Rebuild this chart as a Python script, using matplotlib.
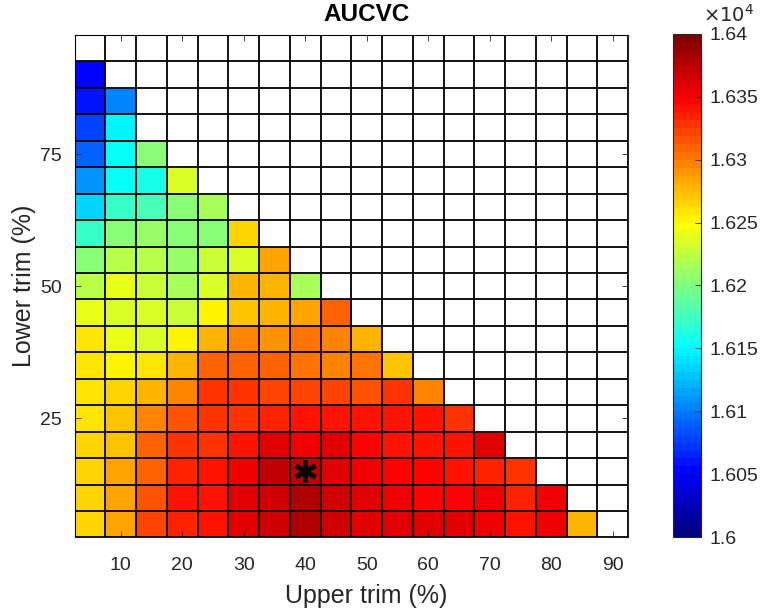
import numpy as np
import matplotlib
matplotlib.use("Agg")
import matplotlib.pyplot as plt
from matplotlib.colors import LinearSegmentedColormap

plt.rcParams['font.family'] = ['Liberation Sans', 'DejaVu Sans']

# upper trim (columns) and lower trim (rows, top to bottom)
upper_trim = [5, 10, 15, 20, 25, 30, 35, 40, 45, 50, 55, 60, 65, 70, 75, 80, 85, 90]
lower_trim = [95, 90, 85, 80, 75, 70, 65, 60, 55, 50, 45, 40, 35, 30, 25, 20, 15, 10, 5]

# AUCVC per row, starting at upper trim 5; missing cells are blank
auc_rows = [
    [],
    [16052],
    [16062, 16100],
    [16075, 16145],
    [16089, 16150, 16200],
    [16109, 16150, 16162, 16236],
    [16132, 16170, 16178, 16205, 16213],
    [16170, 16205, 16208, 16205, 16206, 16263],
    [16200, 16220, 16220, 16208, 16225, 16236, 16283],
    [16220, 16240, 16228, 16217, 16236, 16275, 16275, 16213],
    [16240, 16236, 16233, 16228, 16250, 16271, 16275, 16283, 16307],
    [16262, 16240, 16236, 16250, 16281, 16295, 16291, 16302, 16295, 16281],
    [16262, 16250, 16262, 16279, 16307, 16309, 16307, 16305, 16297, 16301, 16270],
    [16258, 16266, 16278, 16299, 16326, 16326, 16322, 16322, 16322, 16318, 16326, 16295],
    [16258, 16271, 16295, 16315, 16330, 16330, 16334, 16342, 16342, 16342, 16340, 16338, 16330],
    [16264, 16274, 16307, 16326, 16326, 16340, 16358, 16356, 16358, 16344, 16338, 16338, 16342, 16358],
    [16264, 16283, 16311, 16336, 16338, 16350, 16370, 16372, 16358, 16350, 16344, 16344, 16340, 16336, 16326],
    [16264, 16285, 16318, 16338, 16342, 16358, 16368, 16378, 16364, 16361, 16352, 16344, 16344, 16350, 16336, 16350],
    [16266, 16285, 16322, 16336, 16340, 16362, 16366, 16380, 16364, 16362, 16361, 16358, 16362, 16350, 16342, 16350, 16275],
]

best_upper = 40
best_lower = 15

cbar_ticks = [16000, 16050, 16100, 16150, 16200, 16250, 16300, 16350, 16400]

x = np.array(upper_trim, dtype=float)
y = np.array(lower_trim, dtype=float)
z = np.full((len(y), len(x)), np.nan)
for i, row in enumerate(auc_rows):
    z[i, :len(row)] = row
z = np.ma.masked_invalid(z)

dx = np.diff(x)[0] / 2
dy = abs(np.diff(y)[0]) / 2
x_edges = np.append(x - dx, x[-1] + dx)
y_sorted = np.sort(y)
y_edges = np.append(y_sorted - dy, y_sorted[-1] + dy)

# MATLAB style jet, 64 levels
jet = LinearSegmentedColormap.from_list(
    "mjet",
    [(0, (0, 0, 0.5)), (0.125, (0, 0, 1)), (0.375, (0, 1, 1)),
     (0.625, (1, 1, 0)), (0.875, (1, 0, 0)), (1, (0.5, 0, 0))], N=64)

fig = plt.figure(figsize=(7.64, 6.11), dpi=100)
ax = fig.add_axes([0.0978, 0.1203, 0.7242, 0.8224])
cax = fig.add_axes([0.8809, 0.1211, 0.0366, 0.8233])

mesh = ax.pcolormesh(x, y, z, cmap=jet, vmin=cbar_ticks[0], vmax=cbar_ticks[-1],
                     shading='nearest')
ax.set_xlim(x_edges[0], x_edges[-1])
ax.set_ylim(y_edges[0], y_edges[-1])

ax.set_xticks(x_edges, minor=True)
ax.set_yticks(y_edges, minor=True)
ax.grid(which='minor', color='k', linewidth=1.3)
ax.set_axisbelow(False)
ax.tick_params(which='minor', length=0)

ax.set_xticks([10, 20, 30, 40, 50, 60, 70, 80, 90])
ax.set_yticks([25, 50, 75])
ax.tick_params(which='major', direction='in', length=4, width=0.6, color='#262626',
               top=True, right=True, labelsize=14, labelcolor='#262626', pad=9)
ax.tick_params(axis='x', which='major', pad=14)
for s in ax.spines.values():
    s.set_color('#262626')
    s.set_linewidth(0.8)

ax.plot([best_upper], [best_lower], marker=(6, 2, 0), color='k', markersize=16,
        markeredgewidth=3.5, linestyle='none', zorder=5)

ax.set_title("AUCVC", fontsize=17.5, fontweight='bold', color='k', x=0.5265, pad=10)
ax.set_xlabel("Upper trim (%)", fontsize=18, color='#262626', x=0.5265, labelpad=7)
ax.set_ylabel("Lower trim (%)", fontsize=18, color='#262626', labelpad=3)

cb = fig.colorbar(mesh, cax=cax, ticks=cbar_ticks)
cb.ax.set_yticklabels(['%g' % (v / 1e4) for v in cbar_ticks])
cb.ax.tick_params(direction='in', length=4, width=0.6, color='#262626',
                  labelsize=14, labelcolor='#262626', pad=6)
cb.outline.set_edgecolor('#262626')
cb.outline.set_linewidth(0.8)
fig.text(703 / 764, 1 - 22 / 611, r'$\times10^4$', fontsize=14, color='#262626',
         va='baseline', ha='left')

fig.savefig("out.png", dpi=100)
